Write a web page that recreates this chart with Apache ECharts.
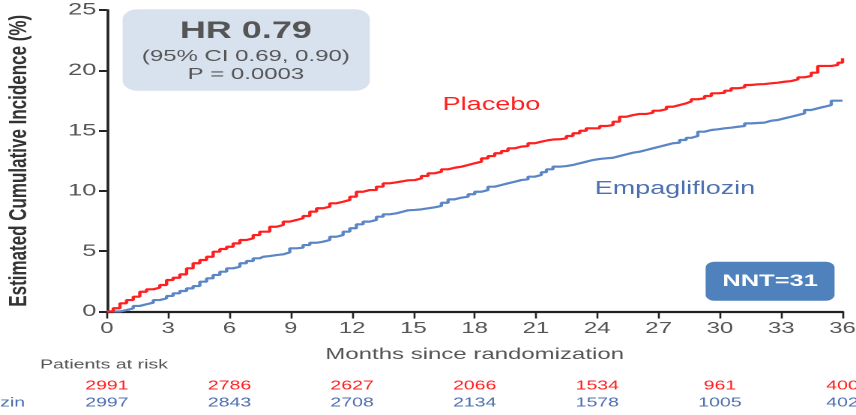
<!DOCTYPE html>
<html>
<head>
<meta charset="utf-8">
<script src="https://cdn.jsdelivr.net/npm/echarts@6/dist/echarts.min.js"></script>
<style>
  html, body { margin: 0; padding: 0; background: #fff; overflow: hidden; }
  /* the chart is laid out on a narrow canvas and widened to the full page */
  #chart { width: 571px; height: 415px; transform: scaleX(1.4991); transform-origin: 0 0; }
</style>
</head>
<body>
<div id="chart"></div>
<script>
// Kaplan-Meier cumulative incidence, [month, percent]
const placeboCurve = [
  [0,0],[0.31,0.27],[0.64,0.68],[0.96,0.95],[1.29,1.23],[1.61,1.64],[1.94,1.84],[2.27,1.98],
  [2.59,2.2],[2.92,2.61],[3.24,2.8],[3.57,3.08],[3.9,3.58],[4.22,4.0],[4.55,4.27],[4.88,4.54],
  [5.2,4.96],[5.53,5.18],[5.86,5.37],[6.18,5.65],[6.51,5.93],[6.83,6.07],[7.16,6.34],[7.48,6.62],
  [7.97,7.03],[8.3,7.17],[8.63,7.45],[8.95,7.59],[9.28,7.73],[9.6,7.92],[9.93,8.28],[10.26,8.56],
  [10.58,8.69],[10.91,8.97],[11.23,9.1],[11.56,9.25],[11.89,9.52],[12.21,9.93],[12.54,10.07],
  [12.86,10.07],[13.19,10.35],[13.52,10.63],[13.84,10.71],[14.17,10.8],[14.49,10.88],[14.74,10.9],
  [15.07,11.04],[15.39,11.24],[15.72,11.46],[16.04,11.59],[16.37,11.79],[16.7,11.92],[17.02,12.01],
  [17.35,12.15],[17.68,12.29],[18.0,12.42],[18.33,12.7],[18.65,12.89],[18.98,13.12],[19.31,13.31],
  [19.63,13.53],[19.96,13.67],[20.28,13.72],[20.61,13.95],[20.94,14.08],[21.26,14.2],[21.59,14.26],
  [21.83,14.28],[22.16,14.36],[22.49,14.55],[22.81,14.78],[23.14,14.99],[23.46,15.19],[23.79,15.19],
  [24.12,15.38],[24.44,15.46],[24.77,15.74],[25.09,16.15],[25.42,16.29],[25.75,16.38],[26.07,16.38],
  [26.4,16.48],[26.72,16.65],[27.05,16.77],[27.38,16.98],[27.7,17.12],[28.03,17.26],[28.35,17.42],
  [28.6,17.6],[28.92,17.68],[29.25,17.87],[29.58,18.09],[29.9,18.14],[30.23,18.31],[30.55,18.51],
  [30.88,18.59],[31.21,18.78],[31.53,18.84],[31.86,18.86],[32.18,18.92],[32.51,18.97],[32.84,19.05],
  [33.16,19.11],[33.49,19.25],[33.82,19.42],[34.14,19.53],[34.47,19.8],[34.79,20.36],[35.45,20.44],
  [35.77,20.63],[36.0,21.0]
];
const empaCurve = [
  [0,0],[0.64,0.12],[0.96,0.26],[1.29,0.46],[1.61,0.6],[1.94,0.73],[2.27,0.95],[2.59,1.09],
  [2.92,1.29],[3.24,1.51],[3.57,1.7],[3.9,1.92],[4.22,2.11],[4.55,2.47],[4.88,2.75],[5.2,3.03],
  [5.53,3.3],[5.86,3.58],[6.18,3.71],[6.51,4.0],[6.83,4.19],[7.16,4.41],[7.48,4.54],[7.65,4.6],
  [7.97,4.68],[8.3,4.74],[8.63,4.9],[8.95,5.24],[9.28,5.29],[9.6,5.51],[9.93,5.7],[10.26,5.79],
  [10.58,5.93],[10.91,6.2],[11.23,6.34],[11.56,6.62],[11.89,6.9],[12.21,7.23],[12.54,7.45],
  [12.86,7.59],[13.19,7.86],[13.52,8.06],[13.84,8.14],[14.17,8.28],[14.49,8.39],[14.74,8.42],
  [15.07,8.47],[15.39,8.56],[15.72,8.64],[16.04,8.75],[16.37,9.02],[16.7,9.3],[17.02,9.44],
  [17.35,9.52],[17.68,9.72],[18.0,9.93],[18.33,10.07],[18.65,10.35],[18.98,10.49],[19.31,10.63],
  [19.63,10.76],[19.96,10.9],[20.28,10.96],[20.61,11.18],[20.94,11.32],[21.26,11.55],[21.51,11.79],
  [21.83,12.01],[22.16,12.06],[22.49,12.15],[22.81,12.29],[23.14,12.42],[23.46,12.56],[23.79,12.65],
  [24.12,12.7],[24.44,12.75],[24.77,12.89],[25.09,13.03],[25.42,13.17],[25.75,13.25],[26.07,13.39],
  [26.4,13.53],[26.72,13.67],[27.05,13.81],[27.38,13.95],[27.7,14.0],[28.03,14.22],[28.35,14.4],
  [28.6,14.55],[28.92,14.91],[29.25,15.05],[29.58,15.11],[29.9,15.19],[30.23,15.24],[30.55,15.32],
  [30.88,15.38],[31.21,15.6],[31.53,15.66],[32.18,15.82],[32.51,15.88],[32.84,16.02],[33.16,16.15],
  [33.49,16.29],[33.82,16.43],[34.14,16.71],[34.47,16.85],[34.79,16.98],[35.12,17.12],[35.45,17.48],
  [36.0,17.48]
];

// patients at risk table
const riskMonths = [0, 6, 12, 18, 24, 30, 36];
const placeboAtRisk = [2991, 2786, 2627, 2066, 1534, 961, 400];
const empaAtRisk = [2997, 2843, 2708, 2134, 1578, 1005, 402];

// axis scales
const xMax = 36, xStep = 3;
const yMax = 25, yStep = 5;

const FONT = '"Liberation Sans", Arial, sans-serif';
const GREY = '#555555';
const RED = '#ff1f1f';
const BLUE = '#4d70b0';

const chart = echarts.init(document.getElementById('chart'), null, { renderer: 'canvas', devicePixelRatio: 2 });

const option = {
  animation: false,
  backgroundColor: '#ffffff',
  textStyle: { fontFamily: FONT },
  grid: { left: 71.3, right: 9, top: 10, bottom: 103.5, containLabel: false, outerBoundsMode: 'none' },
  xAxis: {
    type: 'value', min: 0, max: xMax, interval: xStep,
    axisLine: { show: true, onZero: false, lineStyle: { color: '#222', width: 2.2 } },
    axisTick: { show: true, length: 7, lineStyle: { color: '#222', width: 1.3 } },
    axisLabel: { color: GREY, fontSize: 16, margin: 9, fontFamily: FONT },
    splitLine: { show: false },
    name: 'Months since randomization', nameLocation: 'middle', nameGap: 35,
    nameTextStyle: { color: GREY, fontSize: 16, fontFamily: FONT }
  },
  yAxis: {
    type: 'value', min: 0, max: yMax, interval: yStep,
    axisLine: { show: true, onZero: false, lineStyle: { color: '#222', width: 1.8 } },
    axisTick: { show: true, length: 5.3, lineStyle: { color: '#222', width: 2 } },
    axisLabel: { color: GREY, fontSize: 17, margin: 7, fontFamily: FONT },
    splitLine: { show: false },
    name: 'Estimated Cumulative Incidence (%)', nameLocation: 'middle', nameGap: 50, nameRotate: 90,
    nameTextStyle: { color: '#333', fontSize: 17, fontWeight: 'bold', fontFamily: FONT }
  },
  series: [
    {
      name: 'Placebo', type: 'line', step: 'end', data: placeboCurve,
      showSymbol: false, symbol: 'none', lineStyle: { color: RED, width: 2.2 }, z: 3
    },
    {
      name: 'Empagliflozin', type: 'line', step: 'end', data: empaCurve,
      showSymbol: false, symbol: 'none', lineStyle: { color: '#5b86c6', width: 2.2 }, z: 2
    }
  ]
};
chart.setOption(option);

// annotations and the risk table
const graphics = [
  { type: 'rect', shape: { x: 81.8, y: 9.3, width: 164.9, height: 81.4, r: 10 },
    style: { fill: '#d8e2ee' }, z: 1 },
  { type: 'text', x: 164, y: 31.5,
    style: { text: 'HR 0.79', font: 'bold 24px ' + FONT, fill: GREY, align: 'center', verticalAlign: 'middle' }, z: 2 },
  { type: 'text', x: 164, y: 56.7,
    style: { text: '(95% CI 0.69, 0.90)', font: '16px ' + FONT, fill: GREY, align: 'center', verticalAlign: 'middle' }, z: 2 },
  { type: 'text', x: 164, y: 74.5,
    style: { text: 'P = 0.0003', font: '16px ' + FONT, fill: GREY, align: 'center', verticalAlign: 'middle' }, z: 2 },
  { type: 'rect', shape: { x: 470.7, y: 261.7, width: 86, height: 39, r: 6 },
    style: { fill: '#4f81bd' }, z: 1 },
  { type: 'text', x: 513.7, y: 281.5,
    style: { text: 'NNT=31', font: 'bold 17px ' + FONT, fill: '#ffffff', align: 'center', verticalAlign: 'middle' }, z: 2 },
  { type: 'text', x: 295.3, y: 105,
    style: { text: 'Placebo', font: '18px ' + FONT, fill: RED, align: 'left', verticalAlign: 'middle' }, z: 2 },
  { type: 'text', x: 396.7, y: 189,
    style: { text: 'Empagliflozin', font: '18px ' + FONT, fill: BLUE, align: 'left', verticalAlign: 'middle' }, z: 2 },
  { type: 'text', x: 26.7, y: 365,
    style: { text: 'Patients at risk', font: '13px ' + FONT, fill: GREY, align: 'left', verticalAlign: 'middle' }, z: 2 },
  { type: 'text', x: 16.7, y: 403,
    style: { text: 'Empagliflozin', font: '13px ' + FONT, fill: BLUE, align: 'right', verticalAlign: 'middle' }, z: 2 }
];
riskMonths.forEach((m, i) => {
  const px = chart.convertToPixel({ xAxisIndex: 0 }, m);
  graphics.push({ type: 'text', x: px, y: 385.7,
    style: { text: String(placeboAtRisk[i]), font: '13px ' + FONT, fill: RED, align: 'center', verticalAlign: 'middle' }, z: 2 });
  graphics.push({ type: 'text', x: px, y: 403,
    style: { text: String(empaAtRisk[i]), font: '13px ' + FONT, fill: BLUE, align: 'center', verticalAlign: 'middle' }, z: 2 });
});
chart.setOption({ graphic: graphics });
</script>
</body>
</html>
